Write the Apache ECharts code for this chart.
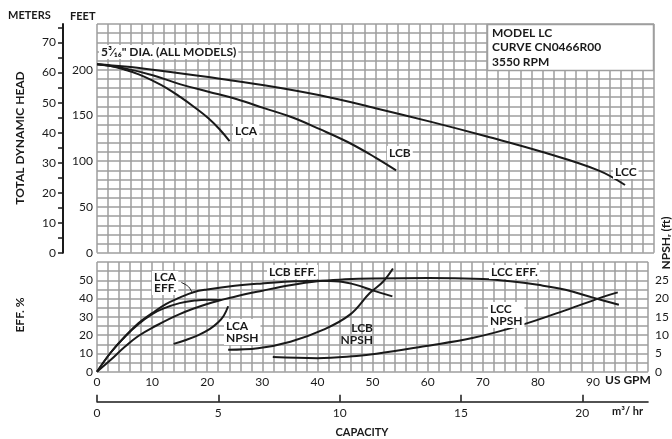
<!DOCTYPE html>
<html><head><meta charset="utf-8">
<script src="https://cdn.jsdelivr.net/npm/echarts@6/dist/echarts.min.js"></script>
<style>html,body{margin:0;padding:0;background:#fff}#c{width:672px;height:439px}</style>
</head><body><div id="c"></div>
<script>
// ---- data (US GPM vs value) ----
const LCA_HEAD = [[0,206],[2.5,204],[5,200],[7.5,195],[10,188],[12.5,180],[15,170],[17.5,159],[20,147],[22,135],[23.8,122]];
const LCB_HEAD = [[0,206],[5,201.5],[10,194],[15,184],[20,176],[25,168],[30,158],[35,148],[40,135],[45,121],[50,104],[53.7,90]];
const LCC_HEAD = [[0,206],[5,203.5],[10,200],[20,192],[30,183],[40,172],[50,158],[60,143],[70,127],[80,110],[90,90],[94.8,74]];
const LCA_EFF = [[0,0],[2.5,10.5],[5,19],[7.5,26],[10,31.5],[12,34.5],[15,37.5],[18,39],[20,39.3],[22.5,39.2]];
const LCB_EFF = [[0,0],[2.5,10.5],[5,19],[7.5,26.5],[10,32],[12.5,37],[15,40.5],[17.5,43.5],[20,45],[25,47],[30,48.3],[35,49.3],[40,49.8],[44,49.3],[47,47.5],[50,44.5],[53.6,41.2]];
const LCC_EFF = [[0,0],[2.5,6.5],[5,13.5],[7.5,19.5],[10,24],[15,31.5],[20,37],[25,41],[30,44.3],[35,47.3],[40,49.5],[45,50.5],[50,51],[60,51.3],[70,50.7],[75,49.5],[80,47.5],[85,44.8],[90,40.5],[94.7,36.6]];
const LCA_NPSH = [[13.9,7.6],[16,8.6],[18.4,10],[20.5,11.7],[22,13.5],[23,15.3],[23.8,17.9]];
const LCB_NPSH = [[23.8,6.0],[29.2,6.4],[35.1,8.2],[41.1,11.5],[45.9,15.6],[49.5,21.5],[51.9,24.6],[53.7,28.2]];
const LCC_NPSH = [[31.9,4.0],[40,3.7],[47.1,4.3],[50.7,4.9],[59.1,6.9],[68.1,9.2],[77.1,12.8],[86.1,17.4],[92.1,20.6],[94.5,21.7]];
const LEADER = [[15.3,48.8],[16.6,46.5],[17.2,43.6]];
const M3HR_TICKS = [0,5,10,15,20];
const METER_TICKS = [0,5,10,15,20,25,30,35,40,45,50,55,60,65,70,75];
const METER_LABELS = [0,10,20,30,40,50,60,70];
const NPSH_LABELS = [0,5,10,15,20,25];

const GPM_PER_M3HR = 4.4029;
const FT_PER_M = 3.28084;
const GRID = '#9e9e9e';
const GRID_W = 1.5;
const INK = '#1a1a1a';
const FONT = 'Lato, "DejaVu Sans", sans-serif';

const chart = echarts.init(document.getElementById('c'), null, {renderer:'canvas'});
function line(data, xi, yi){
  return {type:'line', xAxisIndex:xi, yAxisIndex:yi, data:data, smooth:0.4, showSymbol:false, silent:true,
    lineStyle:{color:INK, width:2}, z:20};
}
const lab = {color:INK, fontSize:12, fontFamily:FONT};
function txt(x,y,t,opt){
  return {type:'text', x:x, y:y, z:50, style:Object.assign({text:t, fill:INK, font:'bold 12px '+FONT, textVerticalAlign:'middle'}, opt||{})};
}
function btxt(x,y,t,opt){
  return txt(x,y,t,Object.assign({backgroundColor:'#fff', padding:[1,2]},opt||{}));
}
const split = {show:true, lineStyle:{color:GRID, width:GRID_W}};
chart.setOption({
  animation:false,
  grid:[{left:97,top:24,width:557,height:228.7},{left:97,top:262,width:557,height:109.7}],
  xAxis:[
    {type:'value',gridIndex:0,min:0,max:100,interval:2,axisLine:{show:false},axisTick:{show:false},axisLabel:{show:false},splitLine:split},
    {type:'value',gridIndex:1,min:0,max:100,interval:2,axisLine:{show:false},axisTick:{show:false},
      axisLabel:Object.assign({margin:4,formatter:v=>(v%10===0&&v<100)?String(v):''},lab),splitLine:split},
    {type:'value',gridIndex:1,position:'bottom',offset:30,min:0,max:100/GPM_PER_M3HR,
      axisLine:{show:true,onZero:false,lineStyle:{color:INK,width:1.5}},
      axisTick:{show:true,inside:true,length:7,customValues:M3HR_TICKS,lineStyle:{color:INK,width:1.5}},
      axisLabel:Object.assign({margin:5,customValues:M3HR_TICKS},lab),splitLine:{show:false}}
  ],
  yAxis:[
    {type:'value',gridIndex:0,min:0,max:250,interval:10,axisLine:{show:false},axisTick:{show:false},
      axisLabel:Object.assign({margin:4,formatter:v=>(v%50===0&&v<250)?String(v):''},lab),splitLine:split},
    {type:'value',gridIndex:0,position:'left',offset:34,min:0,max:250/FT_PER_M,
      axisLine:{show:true,onZero:false,lineStyle:{color:INK,width:2}},
      axisTick:{show:true,length:5,customValues:METER_TICKS,lineStyle:{color:INK,width:1.5}},
      axisLabel:Object.assign({margin:7,customValues:METER_LABELS},lab),splitLine:{show:false}},
    {type:'value',gridIndex:1,min:0,max:60,interval:5,axisLine:{show:false},axisTick:{show:false},
      axisLabel:Object.assign({margin:4,formatter:v=>(v%10===0&&v<60)?String(v):''},lab),splitLine:split},
    {type:'value',gridIndex:1,position:'right',min:0,max:30,axisLine:{show:false},axisTick:{show:false},
      axisLabel:Object.assign({margin:7,customValues:NPSH_LABELS},lab),splitLine:{show:false}}
  ],
  series:[
    line(LCA_HEAD,0,0), line(LCB_HEAD,0,0), line(LCC_HEAD,0,0),
    line(LCA_EFF,1,2), line(LCB_EFF,1,2), line(LCC_EFF,1,2),
    line(LCA_NPSH,1,3), line(LCB_NPSH,1,3), line(LCC_NPSH,1,3),
    Object.assign(line(LEADER,1,2),{lineStyle:{color:INK,width:1}})
  ],
  graphic:[
    txt(8,15,'METERS',{font:'bold 11px '+FONT}),
    txt(70,16,'FEET',{font:'bold 11px '+FONT}),
    {type:'text',x:20,y:138,rotation:Math.PI/2,z:50,style:{text:'TOTAL DYNAMIC HEAD',fill:INK,font:'bold 12px '+FONT,textAlign:'center',textVerticalAlign:'middle'}},
    {type:'text',x:20,y:315,rotation:Math.PI/2,z:50,style:{text:'EFF. %',fill:INK,font:'bold 12px '+FONT,textAlign:'center',textVerticalAlign:'middle'}},
    {type:'text',x:666,y:243,rotation:Math.PI/2,z:50,style:{text:'NPSHᵣ (ft)',fill:INK,font:'bold 12px '+FONT,textAlign:'center',textVerticalAlign:'middle'}},
    txt(362,432,'CAPACITY',{font:'bold 11px '+FONT,textAlign:'center'}),
    txt(605,380,'US GPM',{font:'bold 12px '+FONT}),
    txt(612,411,'m³/ hr',{font:'bold 11px '+FONT}),
    {type:'rect',shape:{x:487.5,y:24.5,width:166,height:46},z:40,style:{fill:'#fff',stroke:GRID,lineWidth:GRID_W}},
    txt(492,33,'MODEL LC'),
    txt(492,47,'CURVE CN0466R00'),
    txt(492,62,'3550 RPM'),
    btxt(99,52,'5³⁄₁₆" DIA. (ALL MODELS)'),
    btxt(233,131,'LCA'),
    btxt(387,153,'LCB'),
    btxt(613,172,'LCC'),
    btxt(152,283,'LCA\nEFF.',{lineHeight:11}),
    btxt(267,272,'LCB EFF.'),
    btxt(224,332,'LCA\nNPSH',{lineHeight:12}),
    txt(373,334,'LCB\nNPSH',{lineHeight:12,textAlign:'right'}),
    btxt(489,272,'LCC EFF.'),
    btxt(488,315,'LCC\nNPSH',{lineHeight:12})
  ]
});
</script></body></html>
